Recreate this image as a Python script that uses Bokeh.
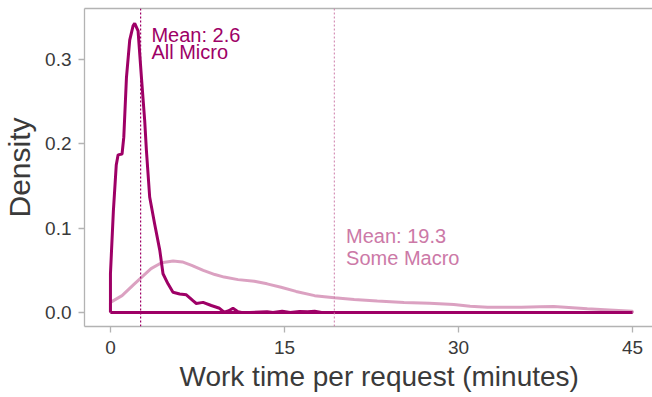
from bokeh.plotting import figure
from bokeh.models import FixedTicker, NumeralTickFormatter, LinearAxis, Span, Range1d, Title
from bokeh.core.properties import value
from bokeh.embed import file_html
from bokeh.resources import INLINE

# ---- data ----
micro_x = [0, 0, 0.25, 0.5, 0.66, 1.0, 1.15, 1.38, 1.66, 1.95, 2.09, 2.38, 2.67, 2.95, 3.1, 3.38,
           3.81, 4.25, 4.53, 4.96, 5.39, 5.97, 6.54, 7.11, 7.4, 7.98, 8.69, 9.4, 9.8, 10.2, 10.56,
           10.99, 11.3, 12.0, 13.5, 14.0, 14.8, 15.5, 16.3, 17.0, 17.6, 18.2, 45]
micro_y = [0, 0.046, 0.12, 0.175, 0.187, 0.188, 0.208, 0.279, 0.323, 0.34, 0.343, 0.334, 0.279,
           0.228, 0.192, 0.137, 0.105, 0.074, 0.046, 0.034, 0.024, 0.022, 0.021, 0.014, 0.0107,
           0.012, 0.0083, 0.005, 0.0005, 0.002, 0.005, 0.001, 0.0, 0.0, 0.001, 0.0, 0.0015, 0.0,
           0.0012, 0.001, 0.0015, 0.0, 0.0]

macro_x = [0, 0, 1, 2, 2.7, 3.5, 4.4, 5.4, 6.2, 7, 8, 9, 9.8, 11, 12.4, 13.5, 14.7, 16, 17.6,
           19.3, 21, 23, 25.3, 27.5, 29.6, 31, 32.5, 34, 35.4, 37, 38.2, 39.5, 41.1, 43, 45]
macro_y = [0, 0.012, 0.02, 0.033, 0.042, 0.052, 0.059, 0.061, 0.06, 0.056, 0.05, 0.045, 0.042,
           0.039, 0.037, 0.034, 0.030, 0.025, 0.020, 0.0174, 0.0154, 0.0137, 0.012, 0.011,
           0.0095, 0.0075, 0.0063, 0.0062, 0.0063, 0.0068, 0.0071, 0.006, 0.0044, 0.003, 0.0015]

means = [2.6, 19.3]
mean_labels = ["Mean: 2.6", "Mean: 19.3"]
group_labels = ["All Micro", "Some Macro"]

x_ticks = [0, 15, 30, 45]
y_ticks = [0.0, 0.1, 0.2, 0.3]
x_title = "Work time per request (minutes)"
y_title = "Density"

DARK = "#9E0066"
LIGHT = "#CC79A7"
AXIS_GRAY = "#b3b3b3"
TEXT_GRAY = "#3a3a3a"
FONT = "Liberation Sans"

p = figure(width=652, height=397, output_backend="svg", toolbar_location=None,
           x_range=Range1d(-2.237, 46.72), y_range=Range1d(-0.0166, 0.3606),
           min_border_left=83, min_border_right=0, min_border_top=8, min_border_bottom=71)
p.outline_line_color = None
p.xgrid.visible = False
p.ygrid.visible = False
p.background_fill_color = "white"

# densities: closed outlines (curve then baseline back to start)
p.line(macro_x + [macro_x[-1], macro_x[0]], macro_y + [0, 0], line_color=LIGHT,
       line_alpha=0.7, line_width=3)
p.line(micro_x + [micro_x[-1], micro_x[0]], micro_y + [0, 0], line_color=DARK,
       line_width=3)

# mean lines
p.add_layout(Span(location=means[0], dimension="height", line_color=DARK,
                  line_dash="2 2", line_width=1.2))
p.add_layout(Span(location=means[1], dimension="height", line_color=LIGHT, line_alpha=0.8,
                  line_dash="2 2", line_width=1.2))

# annotations
p.text(x=[3.53, 3.53], y=[0.3286, 0.3088], text=[mean_labels[0], group_labels[0]],
       text_color=DARK, text_font=value(FONT), text_font_size="20px",
       text_baseline="alphabetic", text_align="left")
p.text(x=[20.31, 20.31], y=[0.0907, 0.0647], text=[mean_labels[1], group_labels[1]],
       text_color=LIGHT, text_font=value(FONT), text_font_size="20px",
       text_baseline="alphabetic", text_align="left")

# axes styling
for ax in (p.xaxis[0], p.yaxis[0]):
    ax.axis_line_color = AXIS_GRAY
    ax.axis_line_width = 1.3
    ax.major_tick_line_color = AXIS_GRAY
    ax.major_tick_line_width = 1.3
    ax.major_tick_out = 6
    ax.major_tick_in = 0
    ax.minor_tick_line_color = None
    ax.major_label_text_font = FONT
    ax.major_label_text_font_size = "19px"
    ax.major_label_text_color = TEXT_GRAY
    ax.axis_label_text_font = FONT
    ax.axis_label_text_font_style = "normal"
    ax.axis_label_text_color = TEXT_GRAY

p.xaxis.ticker = FixedTicker(ticks=x_ticks)
p.yaxis.ticker = FixedTicker(ticks=y_ticks)
p.yaxis.formatter = NumeralTickFormatter(format="0.0")
p.yaxis.axis_label = y_title
p.yaxis.axis_label_text_font_size = "30px"
p.xaxis.major_label_standoff = 8
p.yaxis.major_label_standoff = 7
p.yaxis.axis_label_standoff = 6

# x title as a below-panel title, placed like the reference
p.add_layout(Title(text=x_title, align="left", offset=95, standoff=4,
                   text_font=FONT, text_font_size="28px", text_font_style="normal",
                   text_color=TEXT_GRAY), "below")

top = LinearAxis(ticker=FixedTicker(ticks=[]), axis_line_color=AXIS_GRAY, axis_line_width=1.3,
                 major_label_text_font_size="0px", major_tick_line_color=None,
                 minor_tick_line_color=None)
p.add_layout(top, "above")

open("out.html", "w").write(file_html(p, INLINE))
